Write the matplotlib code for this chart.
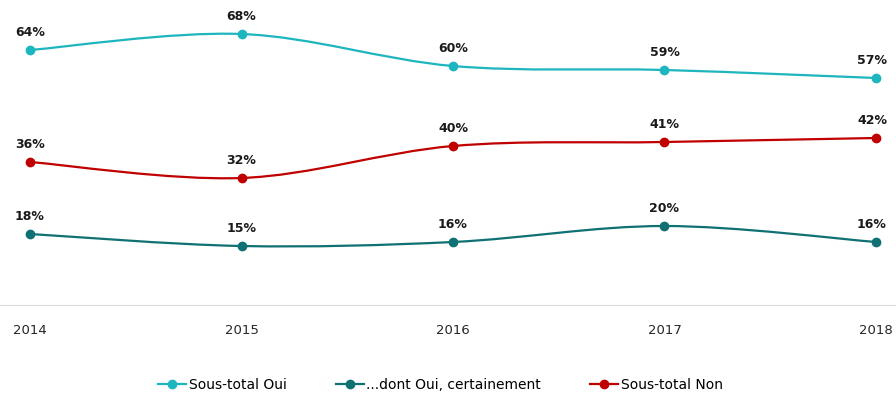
import matplotlib
matplotlib.use("Agg")
import matplotlib.pyplot as plt
from matplotlib.path import Path
from matplotlib.patches import PathPatch
from matplotlib.lines import Line2D
import numpy as np

years = [2014, 2015, 2016, 2017, 2018]
sous_total_oui = [64, 68, 60, 59, 57]
dont_oui_certainement = [18, 15, 16, 20, 16]
sous_total_non = [36, 32, 40, 41, 42]

series = [
    ("Sous-total Oui", sous_total_oui, "#1DB5BE"),
    ("...dont Oui, certainement", dont_oui_certainement, "#0F7173"),
    ("Sous-total Non", sous_total_non, "#C00000"),
]

def smooth_path(x, y):
    pts = np.column_stack([x, y]).astype(float)
    n = len(pts)
    verts = [pts[0]]
    codes = [Path.MOVETO]
    for i in range(n - 1):
        p0 = pts[i - 1] if i > 0 else pts[i]
        p1 = pts[i]
        p2 = pts[i + 1]
        p3 = pts[i + 2] if i + 2 < n else pts[i + 1]
        c1 = p1 + (p2 - p0) / 6.0
        c2 = p2 - (p3 - p1) / 6.0
        verts += [c1, c2, p2]
        codes += [Path.CURVE4] * 3
    return Path(verts, codes)

fig = plt.figure(figsize=(8.96, 4.0), dpi=100)
ax = fig.add_axes([0, 0.235, 1, 0.75])
ppy = 211.5
ax.set_xlim(2014 - 30 / ppy, 2018 + 20 / ppy)
ax.set_ylim(0, 75)

for name, vals, col in series:
    patch = PathPatch(smooth_path(years, vals), facecolor="none", edgecolor=col,
                      lw=1.6, zorder=3)
    ax.add_patch(patch)
    ax.plot(years, vals, "o", color=col, markersize=6, zorder=4)
    for i, (xv, yv) in enumerate(zip(years, vals)):
        dx = -4 if i == len(years) - 1 else 0
        ax.annotate(f"{yv}%", (xv, yv), xytext=(dx, 11), textcoords="offset pixels",
                    ha="center", va="bottom", fontsize=9, fontweight="bold",
                    color="#1a1a1a", zorder=5)

ax.axhline(0, color="#D9D9D9", lw=1.5, zorder=1)
for s in ax.spines.values():
    s.set_visible(False)
ax.set_yticks([])
ax.set_xticks(years)
ax.set_xticklabels([str(y) for y in years])
ax.tick_params(axis="x", length=0, pad=13, labelsize=9.5, labelcolor="#262626")

handles = [Line2D([0], [0], color=c, lw=1.6, marker="o", markersize=6) for _, _, c in series]
labels = [n for n, _, _ in series]
fig.legend(handles, labels, loc="center", bbox_to_anchor=(0.4916, 0.037), ncol=3,
           frameon=False, fontsize=10, handlelength=2.0, handletextpad=0.2,
           columnspacing=3.55)

fig.savefig("out.png", dpi=100)
